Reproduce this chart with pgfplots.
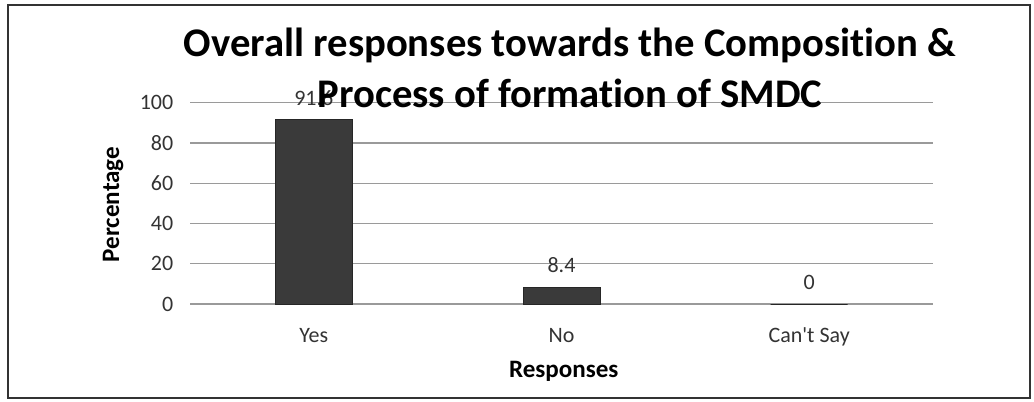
\documentclass[border=0pt]{standalone}
\usepackage{pgfplots}
\pgfplotsset{compat=1.18}
\usepackage{fontspec}
\setmainfont{Carlito}[Ligatures={TeXOff,CommonOff}]
\definecolor{barfill}{HTML}{3A3A3A}
\definecolor{gridc}{HTML}{9A9A9A}
\begin{document}
\begin{tikzpicture}
\useasboundingbox (0pt,0pt) rectangle (775.5pt,-300.75pt);
\draw[line width=1.2pt, black!80] (6pt,-3.75pt) rectangle (772.5pt,-298.5pt);
\begin{axis}[
  at={(142.5pt,-228pt)}, anchor=south west,
  scale only axis, width=557.25pt, height=151pt,
  xmin=-0.5, xmax=2.5, ymin=0, ymax=100,
  xtick={0,1,2}, xticklabels={Yes,No,Can't Say},
  ytick={0,20,40,60,80,100},
  axis line style={draw=none},
  major tick length=0pt,
  ymajorgrids, grid style={gridc, line width=0.9pt},
  ticklabel style={font=\fontsize{16.5}{18}\selectfont, text=black!80},
  /pgf/number format/assume math mode=true,
  xticklabel style={yshift=-14.5pt},
  yticklabel style={xshift=-9pt},
  ylabel={Percentage}, xlabel={Responses},
  ylabel style={at={(axis description cs:-0.1036,0.494)}, anchor=center, font=\bfseries\fontsize{18.8}{20}\selectfont},
  xlabel style={at={(axis description cs:0.503,-0.335)}, anchor=center, font=\bfseries\fontsize{18.8}{20}\selectfont},
  ybar, bar width=57.75pt,
  nodes near coords,
  every node near coord/.append style={font=\fontsize{16.5}{18}\selectfont, text=black!80, yshift=7pt},
  point meta=explicit symbolic,
  clip=false,
]
\addplot[fill=barfill, draw=black!85, line width=0.6pt] coordinates {(0,91.6) [91.6] (1,8.4) [8.4] (2,0) [0]};
\end{axis}
\node[anchor=base, font=\bfseries\fontsize{30.5}{36}\selectfont] at (427.5pt,-42pt) {Overall responses towards the Composition \&};
\node[anchor=base, font=\bfseries\fontsize{30.5}{36}\selectfont] at (427.5pt,-80.25pt) {Process of formation of SMDC};
\end{tikzpicture}
\end{document}
